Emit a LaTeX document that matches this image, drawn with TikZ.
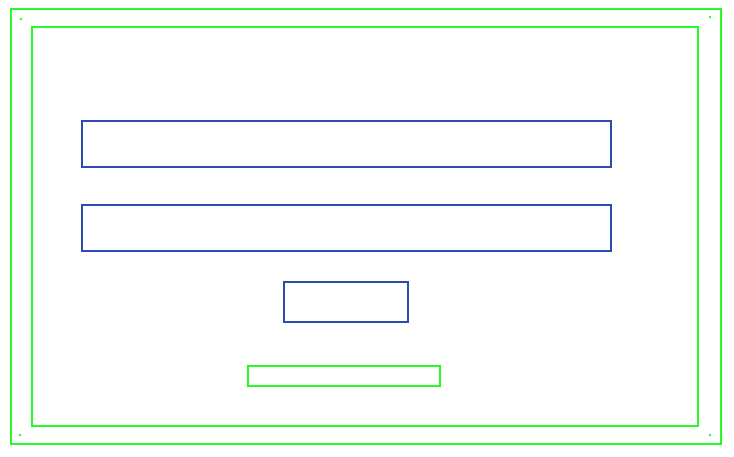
\documentclass[tikz,border=0pt]{standalone}
\usepackage{xcolor}
\usepackage{tikz}
\definecolor{frameGreen}{RGB}{40,250,40}
\definecolor{fieldBlue}{RGB}{45,75,175}

\begin{document}
\begin{tikzpicture}[x=1pt, y=-1pt,
		frame_box/.style={rectangle, draw=frameGreen, line width=2pt, inner sep=0pt},
		field_box/.style={rectangle, draw=fieldBlue, line width=1.8pt, inner sep=0pt},
		corner_dot/.style={circle, fill=frameGreen, minimum size=2.6pt, inner sep=0pt}]
				\useasboundingbox (0, 0) rectangle (734, 457);
				
				\node[frame_box, minimum width=709.5pt, minimum height=435pt] (outer) at (365.75, 226.5) {};
				\node[frame_box, minimum width=666pt, minimum height=399pt] (inner) at (365, 226.5) {};
				
				\node[corner_dot] (dot_nw) at (21, 19) {};
				\node[corner_dot] (dot_ne) at (710, 17) {};
				\node[corner_dot] (dot_sw) at (20, 435) {};
				\node[corner_dot] (dot_se) at (710, 435) {};
				
				\node[field_box, minimum width=529pt, minimum height=46pt] (field_1) at (346.5, 144) {};
				\node[field_box, minimum width=529pt, minimum height=46pt] (field_2) at (346.5, 228) {};
				\node[field_box, minimum width=124pt, minimum height=40pt] (button) at (346, 302) {};
				\node[frame_box, line width=1.8pt, minimum width=192pt, minimum height=20pt] (footer) at (344, 376) {};
			\end{tikzpicture}
\end{document}
